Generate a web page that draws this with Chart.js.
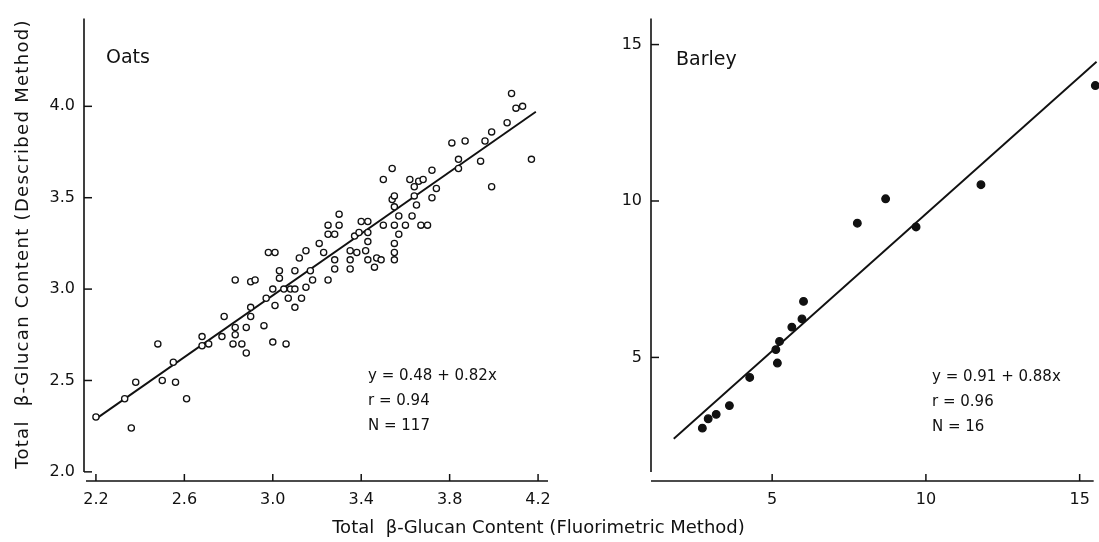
<!DOCTYPE html>
<html>
<head>
<meta charset="utf-8">
<script src="https://cdn.jsdelivr.net/npm/chart.js@4.4.0/dist/chart.umd.min.js"></script>
<style>
  body { margin: 0; background: #fff; width: 1099px; height: 542px; overflow: hidden; position: relative; font-family: "DejaVu Sans", sans-serif; color: #111; }
  #oats { position: absolute; left: 0; top: 0; }
  #barley { position: absolute; left: 560px; top: 0; }
  #xTitle { position: absolute; left: 0; width: 1077px; top: 516px; text-align: center; font-size: 18px; line-height: 22px; white-space: pre; }
  #yTitle { position: absolute; left: 22px; top: 244px; width: 600px; margin-left: -300px; margin-top: -11px; text-align: center; font-size: 18px; line-height: 22px; letter-spacing: 1.3px; white-space: pre; transform: rotate(-90deg); }
</style>
</head>
<body>
<canvas id="oats" width="560" height="542"></canvas>
<canvas id="barley" width="539" height="542"></canvas>
<div id="yTitle">Total  β-Glucan Content (Described Method)</div>
<div id="xTitle">Total  β-Glucan Content (Fluorimetric Method)</div>
<script>
// oats
var oatsX = [2.20,2.33,2.36,2.38,2.48,2.50,2.55,2.56,2.61,2.68,2.68,2.71,2.77,2.78,2.83,2.83,2.82,2.86,2.88,2.88,
  2.90,2.90,2.96,2.97,3.00,3.01,3.00,3.06,3.05,3.07,3.08,3.10,3.10,3.13,3.15,2.83,2.90,2.92,2.98,3.01,
  3.03,3.03,3.10,3.12,3.15,3.17,3.18,3.21,3.23,3.25,3.25,3.25,3.28,3.30,3.30,3.28,3.28,3.35,3.35,3.35,
  3.37,3.38,3.40,3.43,3.39,3.43,3.43,3.42,3.43,3.46,3.47,3.49,3.50,3.50,3.54,3.54,3.55,3.55,3.57,3.55,
  3.60,3.57,3.55,3.55,3.55,3.62,3.64,3.66,3.68,3.64,3.65,3.63,3.67,3.70,3.72,3.74,3.72,3.81,3.87,3.84,
  3.84,3.94,3.96,3.99,3.99,4.06,4.10,4.13,4.17,4.08];
var oatsY = [2.30,2.40,2.24,2.49,2.70,2.50,2.60,2.49,2.40,2.74,2.69,2.70,2.74,2.85,2.79,2.75,2.70,2.70,2.65,2.79,
  2.90,2.85,2.80,2.95,2.71,2.91,3.00,2.70,3.00,2.95,3.00,2.90,3.00,2.95,3.01,3.05,3.04,3.05,3.20,3.20,
  3.10,3.06,3.10,3.17,3.21,3.10,3.05,3.25,3.20,3.05,3.35,3.30,3.30,3.41,3.35,3.16,3.11,3.21,3.16,3.11,
  3.29,3.20,3.37,3.37,3.31,3.31,3.26,3.21,3.16,3.12,3.17,3.16,3.35,3.60,3.66,3.49,3.51,3.45,3.40,3.35,
  3.35,3.30,3.25,3.20,3.16,3.60,3.56,3.59,3.60,3.51,3.46,3.40,3.35,3.35,3.65,3.55,3.50,3.80,3.81,3.71,
  3.66,3.70,3.81,3.86,3.56,3.91,3.99,4.00,3.71,4.07];
var oatsLineX = [2.2, 4.19];
var oatsLineY = [2.29, 3.97];
var oatsXTicks = [2.2, 2.6, 3.0, 3.4, 3.8, 4.2];
var oatsYTicks = [2.0, 2.5, 3.0, 3.5, 4.0];

// barley, right panel
var barleyX = [2.73,2.92,3.18,3.61,4.27,5.12,5.17,5.24,5.64,5.97,6.02,7.77,8.69,9.68,11.79,15.51];
var barleyY = [2.74,3.04,3.18,3.46,4.36,5.25,4.82,5.51,5.97,6.23,6.79,9.29,10.07,9.17,10.52,13.69];
var barleyLineX = [1.8, 15.55];
var barleyLineY = [2.4, 14.45];
var barleyXTicks = [5, 10, 15];
var barleyYTicks = [5, 10, 15];

var ink = '#111';
var font = 'DejaVu Sans';

function pts(xs, ys) {
  return xs.map(function(x, i) { return {x: x, y: ys[i]}; });
}

// axes drawn by hand: the y axis stops short of the x axis, ticks point inwards
var extras = {
  id: 'extras',
  afterDraw: function(chart, args, opts) {
    var ctx = chart.ctx, area = chart.chartArea, sx = chart.scales.x, sy = chart.scales.y;
    ctx.save();
    ctx.strokeStyle = ink;
    ctx.lineWidth = 1.6;
    ctx.beginPath();
    ctx.moveTo(area.left, area.top); ctx.lineTo(area.left, area.bottom - 9);
    ctx.moveTo(area.left + opts.xStart, area.bottom); ctx.lineTo(area.right, area.bottom);
    ctx.stroke();
    ctx.lineWidth = 1.5;
    sx.ticks.forEach(function(t) {
      var px = sx.getPixelForValue(t.value);
      ctx.beginPath(); ctx.moveTo(px, area.bottom); ctx.lineTo(px, area.bottom - 7); ctx.stroke();
    });
    sy.ticks.forEach(function(t) {
      var py = sy.getPixelForValue(t.value);
      ctx.beginPath(); ctx.moveTo(area.left, py); ctx.lineTo(area.left + 8, py); ctx.stroke();
    });
    ctx.fillStyle = ink;
    ctx.textBaseline = 'middle';
    ctx.font = '19px "' + font + '"';
    ctx.fillText(opts.name[0], opts.name[1], opts.name[2]);
    ctx.font = '15px "' + font + '"';
    opts.notes.forEach(function(n, i) {
      ctx.fillText(n, opts.notesAt[0], opts.notesAt[1] + i * 25);
    });
    ctx.restore();
  }
};

function makePanel(id, cfg) {
  return new Chart(id, {
    type: 'scatter',
    data: {
      datasets: [
        {
          data: pts(cfg.xs, cfg.ys),
          pointStyle: 'circle',
          pointRadius: cfg.filled ? 3.8 : 3.1,
          pointBorderWidth: 1.3,
          pointBackgroundColor: cfg.filled ? ink : '#fff',
          pointBorderColor: ink,
          clip: false
        },
        {
          data: pts(cfg.lx, cfg.ly),
          showLine: true,
          pointRadius: 0,
          borderColor: ink,
          borderWidth: 1.9,
          clip: false
        }
      ]
    },
    options: {
      responsive: false,
      devicePixelRatio: 1,
      animation: false,
      events: [],
      layout: { padding: { top: 15, right: cfg.padRight, bottom: 0, left: 0 } },
      plugins: {
        legend: { display: false },
        tooltip: { enabled: false },
        extras: { name: cfg.name, notes: cfg.notes, notesAt: cfg.notesAt, xStart: cfg.xStart }
      },
      scales: {
        x: {
          type: 'linear',
          min: cfg.xMin, max: cfg.xMax,
          afterBuildTicks: function(s) { s.ticks = cfg.xTicks.map(function(v) { return {value: v}; }); },
          afterFit: function(s) { s.height = 61; },
          grid: { display: false, drawTicks: false },
          border: { display: false },
          ticks: {
            color: ink, padding: 9, maxRotation: 0,
            font: { family: font, size: 16 },
            callback: cfg.fmt
          }
        },
        y: {
          type: 'linear',
          min: cfg.yMin, max: cfg.yMax,
          afterBuildTicks: function(s) { s.ticks = cfg.yTicks.map(function(v) { return {value: v}; }); },
          afterFit: function(s) { s.width = cfg.yWidth; },
          grid: { display: false, drawTicks: false },
          border: { display: false },
          ticks: {
            color: ink, padding: 9,
            font: { family: font, size: 16 },
            callback: cfg.fmt
          }
        }
      }
    },
    plugins: [extras]
  });
}

makePanel('oats', {
  xs: oatsX, ys: oatsY, lx: oatsLineX, ly: oatsLineY, filled: false,
  xMin: 2.146, xMax: 4.245, yMin: 1.95, yMax: 4.48,
  xTicks: oatsXTicks, yTicks: oatsYTicks, yWidth: 84, padRight: 10, xStart: 2,
  fmt: function(v) { return Number(v).toFixed(1); },
  name: ['Oats', 106, 58],
  notes: ['y = 0.48 + 0.82x', 'r = 0.94', 'N = 117'],
  notesAt: [368, 376]
});

makePanel('barley', {
  xs: barleyX, ys: barleyY, lx: barleyLineX, ly: barleyLineY, filled: true,
  xMin: 1.06, xMax: 15.456, yMin: 1.05, yMax: 15.83,
  xTicks: barleyXTicks, yTicks: barleyYTicks, yWidth: 91, padRight: 0, xStart: 0,
  fmt: function(v) { return String(v); },
  name: ['Barley', 116, 60],
  notes: ['y = 0.91 + 0.88x', 'r = 0.96', 'N = 16'],
  notesAt: [372, 377]
});
</script>
</body>
</html>
